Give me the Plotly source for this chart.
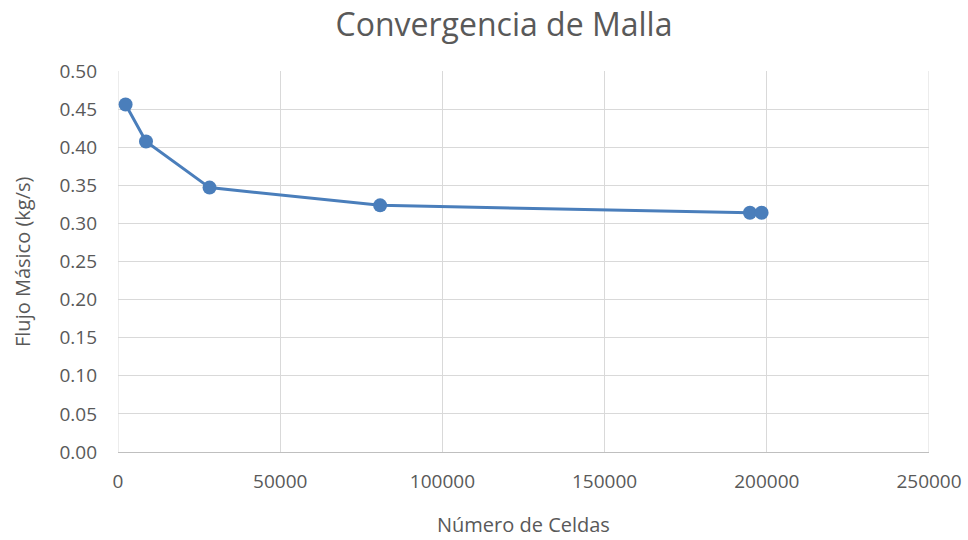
import plotly.graph_objects as go

num_celdas = [2340, 8630, 28220, 80800, 194800, 198400]
flujo_masico = [0.456, 0.4075, 0.347, 0.3237, 0.314, 0.314]

x_ticks = [0, 50000, 100000, 150000, 200000, 250000]
y_ticks = [0.00, 0.05, 0.10, 0.15, 0.20, 0.25, 0.30, 0.35, 0.40, 0.45, 0.50]

font_fam = "Open Sans, sans-serif"
grey = "#595959"

W, H = 968, 540

fig = go.Figure()
fig.add_trace(go.Scatter(
    x=num_celdas, y=flujo_masico, mode="lines+markers",
    line=dict(color="#4A7EBB", width=3),
    marker=dict(color="#4A7EBB", size=14),
    showlegend=False,
))

fig.update_layout(
    width=W, height=H,
    margin=dict(l=118, r=39, t=71, b=88, autoexpand=False),
    paper_bgcolor="white", plot_bgcolor="white",
    title=dict(text="Convergencia de Malla", x=504 / W, xanchor="center", xref="container",
               yref="container", y=1 - 25 / H, yanchor="middle",
               font=dict(family=font_fam, size=32, color=grey)),
    font=dict(family=font_fam, size=19, color=grey),
)
fig.update_xaxes(
    range=[0, 250000], tickvals=x_ticks, ticktext=[str(v) for v in x_ticks],
    showgrid=True, gridcolor="#D9D9D9", gridwidth=1,
    showline=True, linecolor="#BFBFBF", linewidth=1,
    zeroline=False, ticks="", ticklabelstandoff=12, automargin=False,
    tickfont=dict(size=19, color=grey),
)
fig.update_yaxes(
    range=[0, 0.5], tickvals=y_ticks, ticktext=[f"{v:.2f}" for v in y_ticks],
    showgrid=True, gridcolor="#D9D9D9", gridwidth=1,
    zeroline=False, ticks="", showline=False, ticklabelstandoff=20, automargin=False,
    tickfont=dict(size=19, color=grey),
)
fig.add_annotation(text="Número de Celdas", xref="paper", yref="paper",
                   x=(523 - 118) / 811, y=-(524 - 452) / 381,
                   xanchor="center", yanchor="middle", showarrow=False,
                   font=dict(family=font_fam, size=20, color=grey))
fig.add_annotation(text="Flujo Másico (kg/s)", xref="paper", yref="paper",
                   x=-(118 - 22) / 811, y=(452 - 262) / 381, textangle=-90,
                   xanchor="center", yanchor="middle", showarrow=False,
                   font=dict(family=font_fam, size=20, color=grey))
# left and right border gridlines
fig.add_shape(type="line", xref="x", yref="paper", x0=0, x1=0, y0=0, y1=1,
              line=dict(color="#D9D9D9", width=1), layer="below")
fig.add_shape(type="line", xref="x", yref="paper", x0=250000, x1=250000, y0=0, y1=1,
              line=dict(color="#D9D9D9", width=1), layer="below")

fig.write_html("out.html", config={"displayModeBar": False},
               post_script="document.body.style.margin='0';document.body.style.overflow='hidden';")
